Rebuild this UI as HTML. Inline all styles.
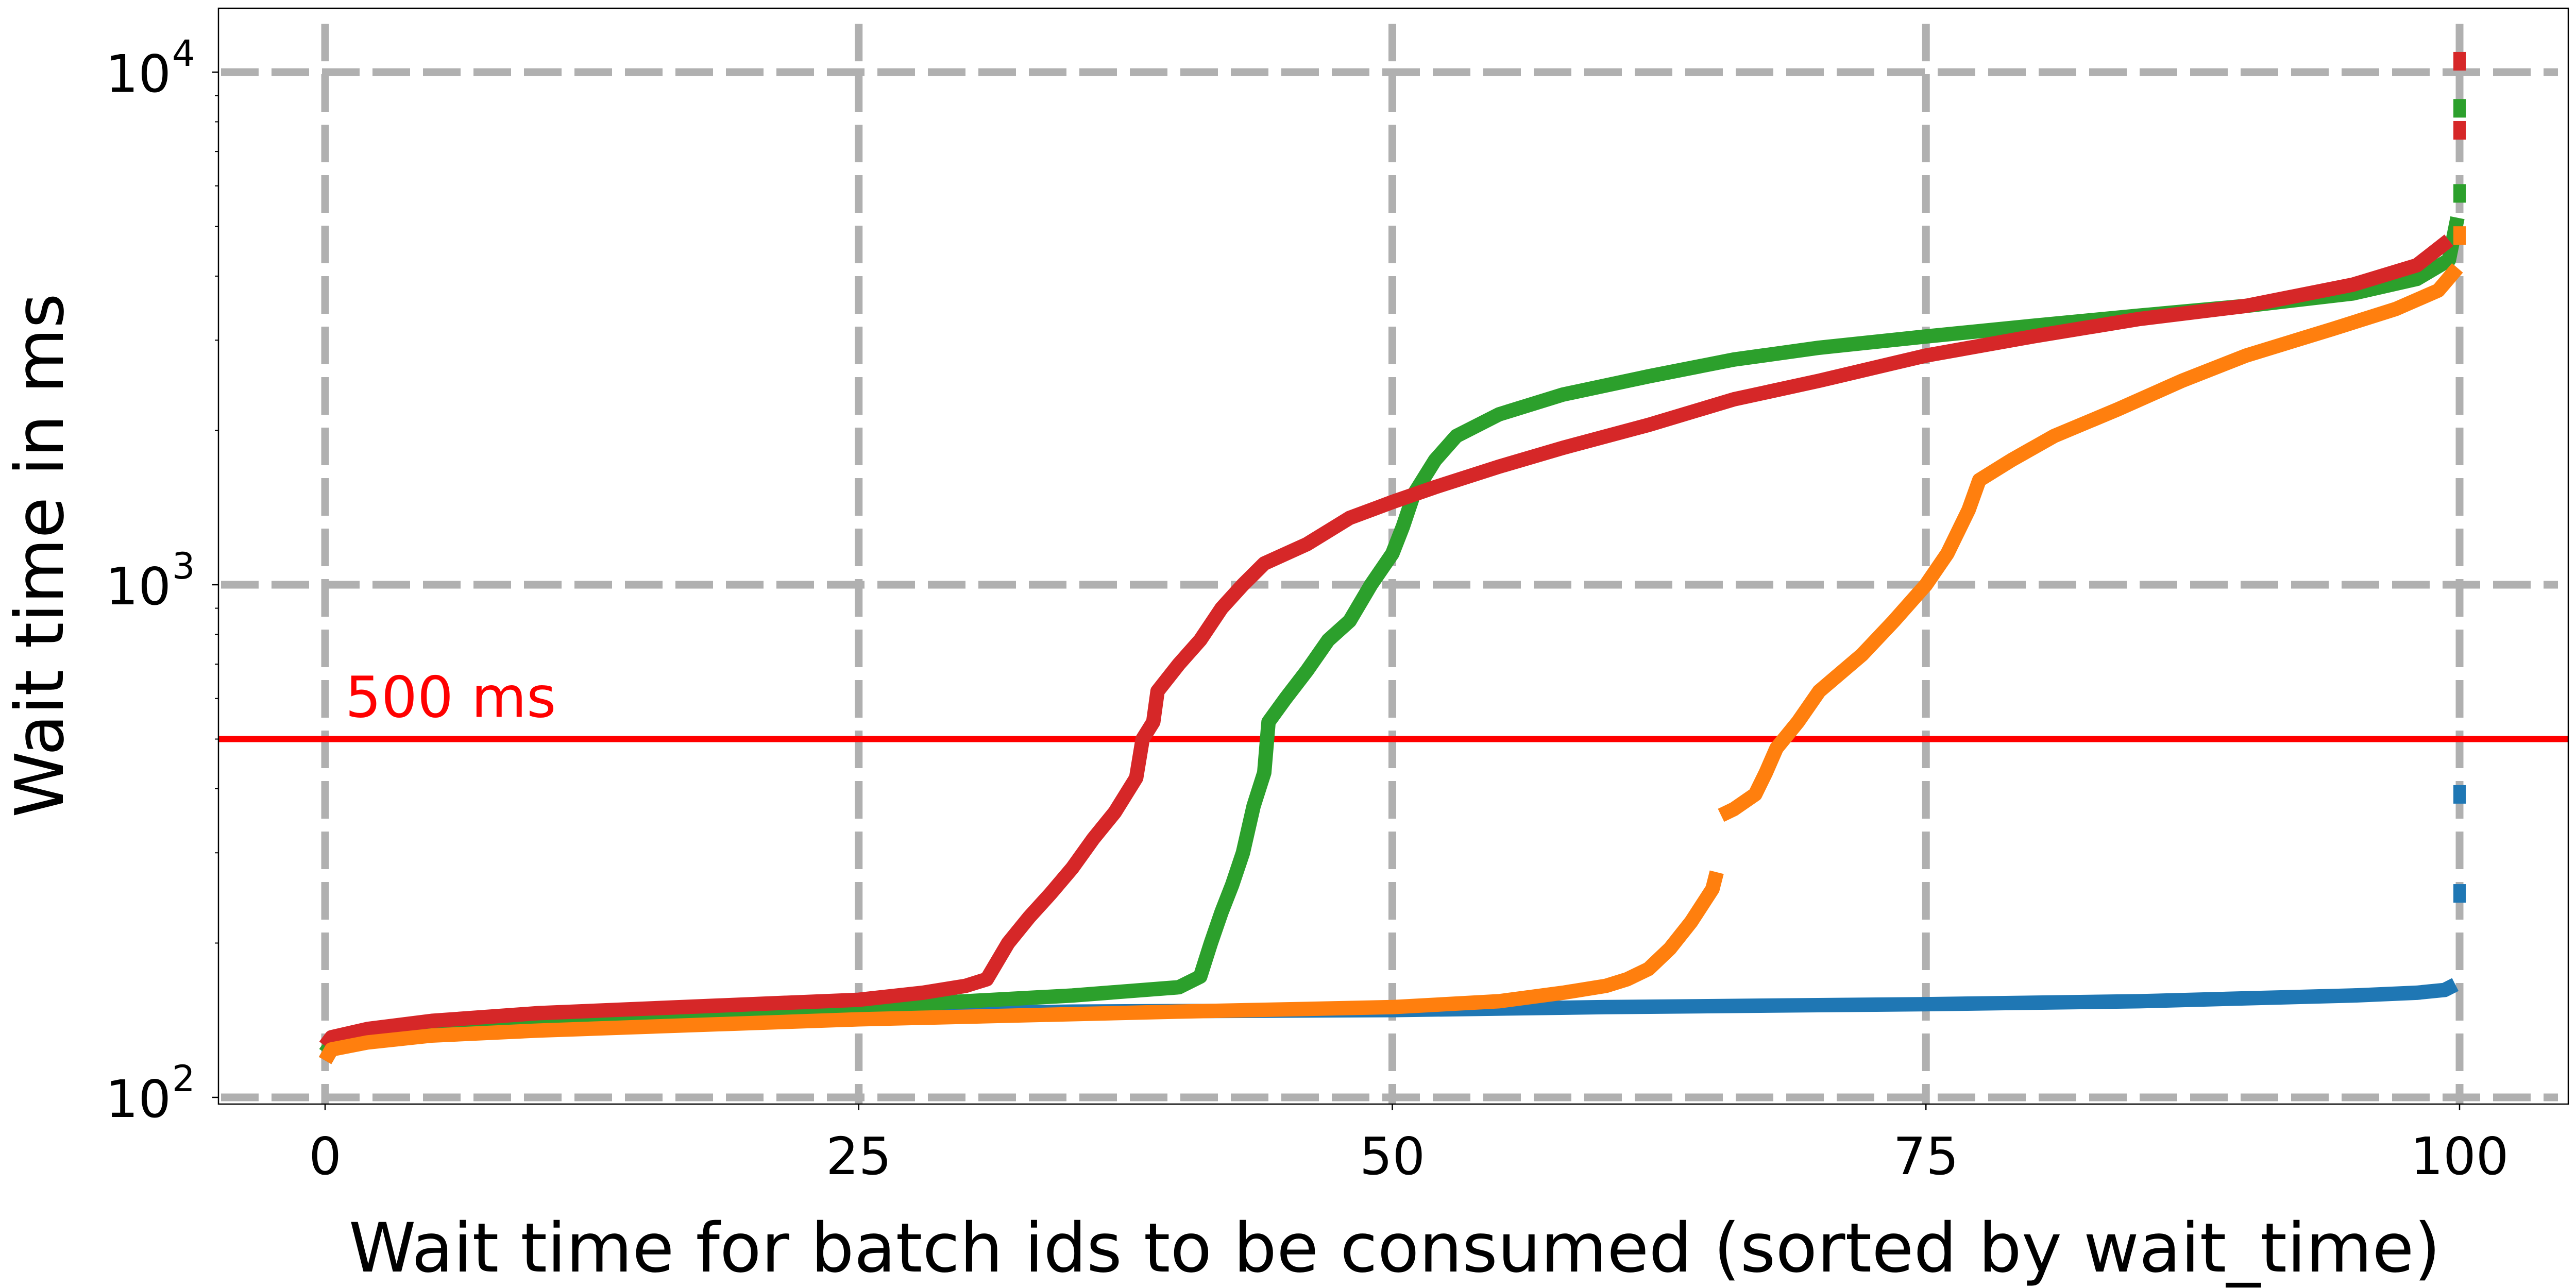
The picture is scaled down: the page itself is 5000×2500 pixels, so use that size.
<!DOCTYPE html>
<html><head><meta charset="utf-8"><style>
html,body{margin:0;padding:0;background:#fff;}
svg{display:block;font-family:"DejaVu Sans","Liberation Sans",sans-serif;}
</style></head><body>
<svg id="chart" width="5000" height="2500" viewBox="0 0 5000 2500" xmlns="http://www.w3.org/2000/svg">
<rect x="0" y="0" width="5000" height="2500" fill="#fff"/>
<g id="grid"></g>
<g id="series"></g>
<g id="axes"></g>
</svg>
<script>
const xTicks = [0, 25, 50, 75, 100];
const yTicks = [2, 3, 4];
const thresholdValue = 500;
const thresholdLabel = "500 ms";
const blueX = [0, 0.3, 1, 3, 5, 10, 20, 25, 35, 50, 60, 75, 85, 90, 95, 98, 99.3, 99.8];
const blueY = [118, 124, 128, 132, 135, 139, 143, 145, 147, 148, 150, 152, 154, 156, 158, 160, 162, 166];
const blueOutliers = [250, 390];
const orangeX = [0, 0.3, 2, 5, 10, 25, 40, 50, 55, 58, 60, 61, 62, 63, 64, 65, 65.2, null, 65.4, 66, 67, 67.5, 68, 69, 70, 72, 73.5, 75, 76, 77, 77.5, 79, 81, 84, 87, 90, 94, 97, 99, 99.9];
const orangeY = [118, 124, 128, 132, 135, 142, 147, 150, 154, 160, 165, 170, 178, 195, 220, 255, 275, null, 355, 365, 390, 430, 480, 540, 620, 730, 850, 1000, 1150, 1400, 1600, 1750, 1950, 2200, 2500, 2800, 3150, 3450, 3750, 4150];
const orangeOutliers = [4800];
const greenX = [0, 0.3, 2, 5, 10, 25, 35, 40, 41, 41.5, 42, 42.5, 43, 43.5, 44, 44.2, 45, 46, 47, 48, 49, 50, 50.5, 51, 52, 53, 55, 58, 62, 66, 70, 75, 80, 85, 90, 95, 98, 99.5, 99.9];
const greenY = [122, 127, 132, 136, 140, 150, 158, 164, 172, 200, 230, 260, 300, 370, 430, 540, 600, 680, 780, 850, 1000, 1150, 1300, 1500, 1750, 1950, 2150, 2350, 2550, 2750, 2900, 3050, 3200, 3350, 3500, 3700, 3950, 4300, 5200];
const greenOutliers = [5800, 8500];
const redX = [0, 0.3, 2, 5, 10, 20, 25, 28, 30, 31, 32, 33, 34, 35, 36, 37, 38, 38.3, 38.8, 39, 40, 41, 42, 43, 44, 46, 48, 50, 52, 55, 58, 62, 66, 70, 75, 80, 85, 90, 95, 98, 99.5];
const redY = [126, 131, 136, 141, 146, 152, 155, 160, 165, 170, 200, 225, 250, 280, 320, 360, 420, 500, 540, 620, 700, 780, 900, 1000, 1100, 1200, 1350, 1450, 1550, 1700, 1850, 2050, 2300, 2500, 2800, 3050, 3300, 3500, 3850, 4200, 4700];
const redOutliers = [7700, 10500];

const NS = "http://www.w3.org/2000/svg";
const L = 424, R = 4985, T = 16, B = 2143;
function xs(v){ return 631 + (4774 - 631) * v / 100; }
function ys(v){ return 2130 - 995 * (Math.log10(v) - 2); }
function mk(tag, attrs, parent){ const e = document.createElementNS(NS, tag); for (const k in attrs) e.setAttribute(k, attrs[k]); parent.appendChild(e); return e; }

const grid = document.getElementById('grid');
const series = document.getElementById('series');
const axes = document.getElementById('axes');

xTicks.forEach(function(t){
  const ln = mk('line', {x1: xs(t), x2: xs(t), y1: T + 30, y2: B, stroke: '#b0b0b0', 'stroke-width': 15, 'stroke-dasharray': '73 25'}, grid);
  
  
});
yTicks.forEach(function(p){
  const ln = mk('line', {x1: L + 5, x2: R - 20, y1: ys(Math.pow(10, p)), y2: ys(Math.pow(10, p)), stroke: '#b0b0b0', 'stroke-width': 15, 'stroke-dasharray': '73 25'}, grid);
  
  
});

const th = mk('line', {x1: L, x2: R, y1: ys(thresholdValue), y2: ys(thresholdValue), stroke: '#ff0000', 'stroke-width': 12}, series);


const thl = mk('text', {x: 670, y: ys(thresholdValue) - 43, fill: '#ff0000', 'font-size': 110}, series);
thl.textContent = thresholdLabel;



function drawSeries(xa, ya, outl, color, name){
  let d = '', pen = false;
  for (let i = 0; i < xa.length; i++) {
    if (xa[i] === null) { pen = false; continue; }
    d += (pen ? 'L' : 'M') + xs(xa[i]).toFixed(1) + ' ' + ys(ya[i]).toFixed(1) + ' ';
    pen = true;
  }
  const p = mk('path', {d: d, fill: 'none', stroke: color, 'stroke-width': 28, 'stroke-linejoin': 'round'}, series);
  
  
  outl.forEach(function(v){
    const r = mk('rect', {x: xs(100) - 12, y: ys(v) - 18, width: 24, height: 36, fill: color}, series);
    
    
  });
}
drawSeries(blueX, blueY, blueOutliers, '#1f77b4', 'blue-series');
drawSeries(greenX, greenY, greenOutliers, '#2ca02c', 'green-series');
drawSeries(redX, redY, redOutliers, '#d62728', 'red-series');
drawSeries(orangeX, orangeY, orangeOutliers, '#ff7f0e', 'orange-series');

const frame = mk('rect', {x: L, y: T, width: R - L, height: B - T, fill: 'none', stroke: '#000', 'stroke-width': 2.5}, axes);



xTicks.forEach(function(t){
  mk('line', {x1: xs(t), x2: xs(t), y1: B, y2: B + 12, stroke: '#000', 'stroke-width': 2.5}, axes);
  const tx = mk('text', {x: xs(t), y: B + 136, 'text-anchor': 'middle', 'font-size': 100, fill: '#000'}, axes);
  tx.textContent = String(t);
  
  
});
yTicks.forEach(function(p){
  const y = ys(Math.pow(10, p));
  mk('line', {x1: L - 12, x2: L, y1: y, y2: y, stroke: '#000', 'stroke-width': 2.5}, axes);
  const tx = mk('text', {x: 332, y: y + 38, 'text-anchor': 'end', 'font-size': 100, fill: '#000'}, axes);
  tx.textContent = '10';
  
  
  const sup = mk('text', {x: 334, y: y - 12, 'text-anchor': 'start', 'font-size': 70, fill: '#000'}, axes);
  sup.textContent = String(p);
  
  
  if (p < 4) {
    for (let m = 2; m <= 9; m++) {
      const ym = ys(m * Math.pow(10, p));
      mk('line', {x1: L - 7, x2: L, y1: ym, y2: ym, stroke: '#000', 'stroke-width': 2}, axes);
    }
  }
});

const xl = mk('text', {x: 2707, y: 2468, 'text-anchor': 'middle', 'font-size': 132, fill: '#000'}, axes);
xl.textContent = 'Wait time for batch ids to be consumed (sorted by wait_time)';


const yl = mk('text', {x: 0, y: 0, 'text-anchor': 'middle', 'font-size': 130, fill: '#000', transform: 'translate(122,1078) rotate(-90)'}, axes);
yl.textContent = 'Wait time in ms';


</script>
</body></html>
